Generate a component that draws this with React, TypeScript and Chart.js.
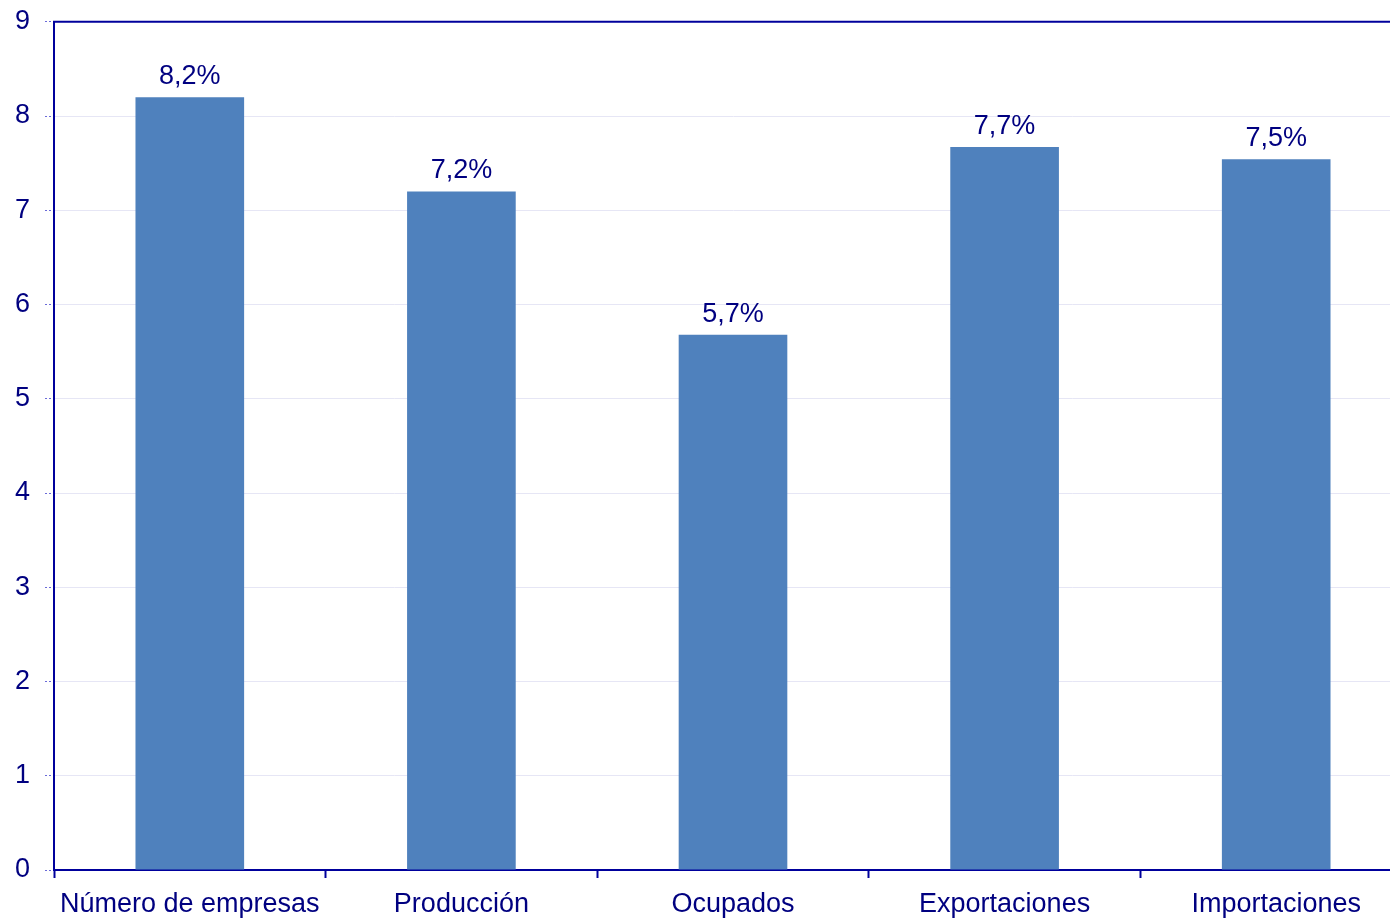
import React, { useEffect, useRef } from "react";
import { Chart, registerables } from "chart.js";

Chart.register(...registerables);

const categories = ["Número de empresas", "Producción", "Ocupados", "Exportaciones", "Importaciones"];
const values = [8.2, 7.2, 5.68, 7.67, 7.54];
const valueLabels = ["8,2%", "7,2%", "5,7%", "7,7%", "7,5%"];
const yTicks = [0, 1, 2, 3, 4, 5, 6, 7, 8, 9];

const NAVY = "#000080";
const AXIS = "#00009c";
const FONT = "'Liberation Sans', Arial, sans-serif";
const FS = 27;

export default function App() {
  const ref = useRef<HTMLCanvasElement | null>(null);

  useEffect(() => {
    if (!ref.current) return;
    const labelPlugin = {
      id: "valueLabels",
      afterDatasetsDraw(chart: any) {
        const ctx = chart.ctx;
        const meta = chart.getDatasetMeta(0);
        ctx.save();
        ctx.font = `${FS}px ${FONT}`;
        ctx.fillStyle = NAVY;
        ctx.textAlign = "center";
        ctx.textBaseline = "alphabetic";
        meta.data.forEach((bar: any, i: number) => {
          ctx.fillText(valueLabels[i], bar.x, bar.y - 13);
        });
        ctx.restore();
      },
    };
    const topBorder = {
      id: "topBorder",
      afterDraw(chart: any) {
        const { ctx, chartArea } = chart;
        ctx.save();
        ctx.strokeStyle = AXIS;
        ctx.lineWidth = 2;
        ctx.beginPath();
        ctx.moveTo(chartArea.left - 1, chartArea.top);
        ctx.lineTo(chartArea.right, chartArea.top);
        ctx.stroke();
        ctx.restore();
      },
    };
    const chart = new Chart(ref.current, {
      type: "bar",
      data: {
        labels: categories,
        datasets: [
          {
            data: values,
            backgroundColor: "#4f81bd",
            borderWidth: 0,
            barPercentage: 0.8,
            categoryPercentage: 0.5,
          },
        ],
      },
      options: {
        animation: false,
        responsive: false,
        maintainAspectRatio: false,
        layout: { padding: { top: 19, right: 8, left: 0, bottom: 0 } },
        plugins: { legend: { display: false }, tooltip: { enabled: false } },
        scales: {
          x: {
            offset: true,
            grid: {
              display: true,
              drawOnChartArea: false,
              offset: true,
              tickLength: 8,
              tickColor: AXIS,
              tickWidth: 2,
            },
            border: { color: AXIS, width: 2 },
            ticks: {
              color: NAVY,
              font: { family: FONT, size: FS },
              padding: 10,
              maxRotation: 0,
              autoSkip: false,
            },
            afterFit: (s: any) => {
              s.height = 48;
            },
          },
          y: {
            min: 0,
            max: 9,
            afterBuildTicks: (s: any) => {
              s.ticks = yTicks.map((v) => ({ value: v }));
            },
            grid: {
              color: "#e6e6f5",
              borderDash: [3, 3],
              tickLength: 9,
              tickColor: "#6a6ad8",
              tickBorderDash: [2, 2],
              tickWidth: 1,
            } as any,
            border: { color: AXIS, width: 2 },
            ticks: {
              color: NAVY,
              font: { family: FONT, size: FS, lineHeight: 0.5 },
              padding: 15,
            },
            afterFit: (s: any) => {
              s.width = 54;
            },
          },
        },
      },
      plugins: [labelPlugin, topBorder],
    });
    return () => chart.destroy();
  }, []);

  return (
    <div style={{ position: "fixed", left: 0, top: 0, width: "100vw", height: "100vh", overflow: "hidden", background: "#fff" }}>
      <canvas ref={ref} width={1420} height={918} style={{ display: "block" }} />
    </div>
  );
}
